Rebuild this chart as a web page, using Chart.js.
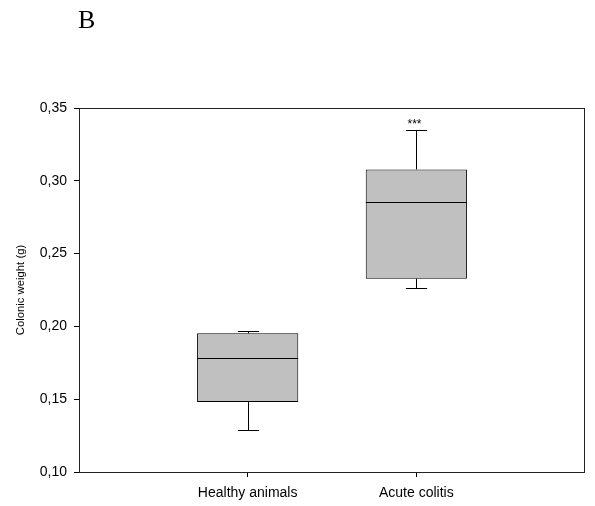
<!DOCTYPE html>
<html>
<head>
<meta charset="utf-8">
<script src="https://cdn.jsdelivr.net/npm/chart.js@4/dist/chart.umd.min.js"></script>
<style>
body{margin:0;background:#fff;}
canvas{display:block;}
</style>
</head>
<body>
<canvas id="boxChart" width="595" height="506"></canvas>
<script>
// box plot values (g)
const categories = ["Healthy animals", "Acute colitis"];
const whiskerLow = [0.1288, 0.2264];
const q1 = [0.1480, 0.2328];
const median = [0.1785, 0.2851];
const q3 = [0.1953, 0.3078];
const whiskerHigh = [0.1970, 0.3349];
const marks = ["", "***"];
const yTicks = [0.10, 0.15, 0.20, 0.25, 0.30, 0.35];

const fontFam = "'Liberation Sans', Arial, sans-serif";

// whiskers, medians, significance stars and the frame
const boxExtras = {
id: "boxExtras",
afterDatasetsDraw(chart){
const ctx = chart.ctx;
const xs = chart.scales.x, ys = chart.scales.y;
const meta = chart.getDatasetMeta(0);
ctx.save();
ctx.strokeStyle = "#000";
ctx.lineWidth = 1;
categories.forEach((c, i) => {
const bar = meta.data[i];
const cx = Math.round(xs.getPixelForValue(i + 1)) + 0.5;
const half = bar.width / 2;
const cap = bar.width * 0.105;
const yMed = Math.round(ys.getPixelForValue(median[i])) + 0.5;
const yQ1 = ys.getPixelForValue(q1[i]);
const yQ3 = ys.getPixelForValue(q3[i]);
const yLo = Math.round(ys.getPixelForValue(whiskerLow[i])) + 0.5;
const yHi = Math.round(ys.getPixelForValue(whiskerHigh[i])) + 0.5;
ctx.beginPath();
ctx.moveTo(bar.x - half, yMed); ctx.lineTo(bar.x + half, yMed);
ctx.moveTo(cx, yQ1); ctx.lineTo(cx, yLo);
ctx.moveTo(cx - cap, yLo); ctx.lineTo(cx + cap, yLo);
ctx.moveTo(cx, yQ3); ctx.lineTo(cx, yHi);
ctx.moveTo(cx - cap, yHi); ctx.lineTo(cx + cap, yHi);
ctx.stroke();
if (marks[i]) {
ctx.fillStyle = "#000";
ctx.font = "12px " + fontFam;
ctx.textAlign = "center";
ctx.textBaseline = "alphabetic";
ctx.fillText(marks[i], cx - 2, yHi - 3);
}
});
const a = chart.chartArea;
ctx.strokeStyle = "#222";
ctx.strokeRect(Math.round(a.left) + 0.5, Math.round(a.top) + 0.5,
Math.round(a.right - a.left) - 1, Math.round(a.bottom - a.top));
// panel letter
ctx.fillStyle = "#000";
ctx.font = "26px 'Liberation Serif', 'Times New Roman', serif";
ctx.textAlign = "left";
ctx.textBaseline = "alphabetic";
ctx.fillText("B", a.left - 1, 28);
ctx.restore();
}
};

new Chart(document.getElementById("boxChart"), {
type: "bar",
data: {
datasets: [{
data: categories.map((c, i) => ({x: i + 1, y: [q1[i], q3[i]]})),
backgroundColor: "#c0c0c0",
borderColor: "#000",
borderWidth: 1,
borderSkipped: false,
categoryPercentage: 0.8,
barPercentage: 0.75
}]
},
options: {
responsive: false,
animation: false,
events: [],
layout: {padding: {top: 108, right: 10, left: 0, bottom: 0}},
plugins: {legend: {display: false}, tooltip: {enabled: false}},
scales: {
x: {
type: "linear",
min: 0,
max: 3,
offset: false,
afterBuildTicks(s){ s.ticks = categories.map((c, i) => ({value: i + 1})); },
afterFit(s){ s.height = 34; },
border: {display: false},
grid: {drawOnChartArea: false, offset: false, tickLength: 5, color: "#000"},
ticks: {
color: "#000",
font: {family: fontFam, size: 14},
padding: 8,
maxRotation: 0,
callback: (v) => categories[v - 1] || ""
}
},
y: {
min: yTicks[0],
max: yTicks[yTicks.length - 1],
afterBuildTicks(s){ s.ticks = yTicks.map(v => ({value: v})); },
afterFit(s){ s.width = 79; },
border: {display: false},
grid: {drawOnChartArea: false, tickLength: 5, color: "#000"},
ticks: {
color: "#000",
font: {family: fontFam, size: 14},
padding: 7,
callback: (v) => v.toFixed(2).replace(".", ",")
},
title: {
display: true,
text: "Colonic weight (g)",
color: "#000",
font: {family: fontFam, size: 11.3},
padding: {top: 14, bottom: 0}
}
}
}
},
plugins: [boxExtras]
});
</script>
</body>
</html>
